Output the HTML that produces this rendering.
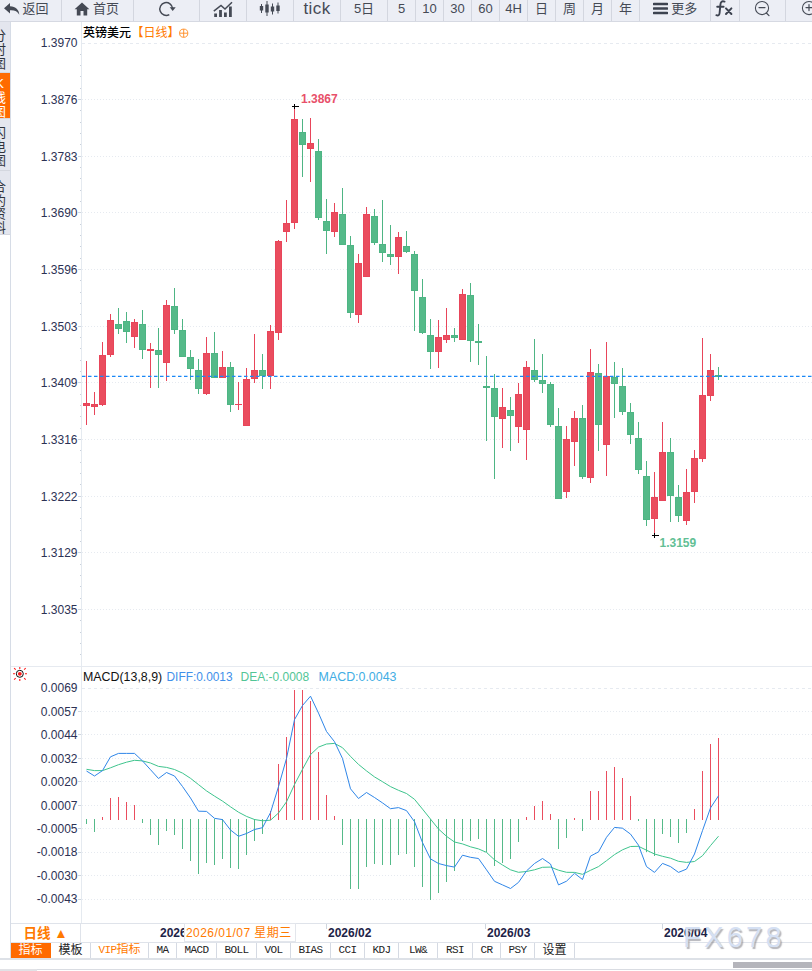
<!DOCTYPE html>
<html lang="zh"><head><meta charset="utf-8"><title>英镑美元 日线</title>
<style>

html,body{margin:0;padding:0;background:#fff;}
body{width:812px;height:971px;overflow:hidden;position:relative;
 font-family:"Liberation Sans","Noto Sans CJK SC",sans-serif;}
#tb{position:absolute;left:0;top:0;width:812px;height:22px;background:#eceef5;border-bottom:1px solid #d6d9e2;box-sizing:border-box;overflow:hidden;}
#tb .b{position:absolute;top:-5px;height:27px;box-sizing:border-box;border-right:1px solid #d3d6df;
  color:#454a55;font-size:13px;line-height:28px;text-align:center;white-space:nowrap;}
#tb .b svg{vertical-align:middle;position:relative;top:-1px}
#side{position:absolute;left:0;top:22px;width:11px;height:937px;background:#fff;border-right:1px solid #d6dce6;box-sizing:border-box;overflow:hidden}
#side .t{position:absolute;left:0;width:10px;background:#e4e6ee;overflow:hidden;border-bottom:1px solid #d4d7df;box-sizing:border-box}
#side .t span{position:absolute;left:-7px;width:13px;font-size:13px;line-height:14px;color:#2f333c;text-align:center;}
#side .t.on{background:#ff6a00;}
#side .t.on span{color:#fff}
#chart{position:absolute;left:0;top:0;}
#bot{position:absolute;left:11px;top:943px;height:15px;white-space:nowrap;font-size:0}
#bot span{display:inline-block;box-sizing:border-box;height:15px;line-height:15px;border-right:1px solid #d5dae3;text-align:center;
  font-family:"Liberation Mono","Noto Sans CJK SC",monospace;font-size:11px;letter-spacing:-0.6px;color:#222;vertical-align:top;overflow:hidden}
#bot span.cj{font-family:"Liberation Sans","Noto Sans CJK SC",sans-serif;font-size:12px;letter-spacing:0}
#bot span.on{background:#ff6a00;color:#fff;border-right-color:#ff6a00}
#bot span.vip{color:#ff7a00;font-family:"Liberation Mono","Noto Sans CJK SC",monospace;font-size:12px;letter-spacing:0}
#bot span.vip i{font-style:normal;font-size:11px;letter-spacing:-0.6px}
#rix{position:absolute;left:11px;top:923px;width:70px;height:20px;box-sizing:border-box;border:1px solid #dfe3ea;border-left:none;
  color:#ff7a00;font-weight:bold;font-size:13.5px;line-height:20px;text-align:center}
#l1{position:absolute;left:0;top:958px;width:812px;height:2px;background:#dde1e7}
#l2{position:absolute;left:0;top:969px;width:812px;height:2px;background:#fff;border-top:1px solid #d9dce2;box-sizing:border-box}
#l3{position:absolute;left:0;top:969px;width:37px;height:2px;background:#e1e2e6}
#thumb{position:absolute;left:733px;top:962px;width:79px;height:6px;background:#b5b5bb}
#wm{position:absolute;left:683px;top:920px;font-size:29px;line-height:34px;letter-spacing:3.3px;color:#d5e0f3;
   text-shadow:1.5px 1.5px 1px rgba(120,120,130,.55);font-family:"Liberation Sans",sans-serif;}

</style></head><body>
<svg id="chart" width="812" height="971" viewBox="0 0 812 971" font-family="Liberation Sans, Noto Sans CJK SC, sans-serif">
<g shape-rendering="crispEdges">
<rect x="81" y="22" width="1" height="901" fill="#e5eaf0"/>
<rect x="11" y="666" width="801" height="1" fill="#e6eaf0"/>
<rect x="11" y="923" width="801" height="1" fill="#dfe3ea"/>
<rect x="11" y="942" width="801" height="1" fill="#dfe3ea"/>
<line x1="82" x2="812" y1="43.5" y2="43.5" stroke="#e6eaf0" stroke-width="1" stroke-dasharray="3 3"/>
<rect x="80" y="54" width="1" height="1" fill="#c9d0da"/>
<rect x="80" y="65" width="1" height="1" fill="#c9d0da"/>
<rect x="80" y="76" width="1" height="1" fill="#c9d0da"/>
<rect x="80" y="88" width="1" height="1" fill="#c9d0da"/>
<line x1="82" x2="812" y1="99.5" y2="99.5" stroke="#e6eaf0" stroke-width="1" stroke-dasharray="1 2"/>
<rect x="78" y="99" width="3" height="1" fill="#cfd6df"/>
<rect x="80" y="110" width="1" height="1" fill="#c9d0da"/>
<rect x="80" y="122" width="1" height="1" fill="#c9d0da"/>
<rect x="80" y="133" width="1" height="1" fill="#c9d0da"/>
<rect x="80" y="144" width="1" height="1" fill="#c9d0da"/>
<line x1="82" x2="812" y1="156.5" y2="156.5" stroke="#e6eaf0" stroke-width="1" stroke-dasharray="1 2"/>
<rect x="78" y="156" width="3" height="1" fill="#cfd6df"/>
<rect x="80" y="167" width="1" height="1" fill="#c9d0da"/>
<rect x="80" y="178" width="1" height="1" fill="#c9d0da"/>
<rect x="80" y="190" width="1" height="1" fill="#c9d0da"/>
<rect x="80" y="201" width="1" height="1" fill="#c9d0da"/>
<line x1="82" x2="812" y1="212.5" y2="212.5" stroke="#e6eaf0" stroke-width="1" stroke-dasharray="1 2"/>
<rect x="78" y="212" width="3" height="1" fill="#cfd6df"/>
<rect x="80" y="224" width="1" height="1" fill="#c9d0da"/>
<rect x="80" y="235" width="1" height="1" fill="#c9d0da"/>
<rect x="80" y="246" width="1" height="1" fill="#c9d0da"/>
<rect x="80" y="258" width="1" height="1" fill="#c9d0da"/>
<line x1="82" x2="812" y1="269.5" y2="269.5" stroke="#e6eaf0" stroke-width="1" stroke-dasharray="1 2"/>
<rect x="78" y="269" width="3" height="1" fill="#cfd6df"/>
<rect x="80" y="280" width="1" height="1" fill="#c9d0da"/>
<rect x="80" y="292" width="1" height="1" fill="#c9d0da"/>
<rect x="80" y="303" width="1" height="1" fill="#c9d0da"/>
<rect x="80" y="314" width="1" height="1" fill="#c9d0da"/>
<line x1="82" x2="812" y1="326.5" y2="326.5" stroke="#e6eaf0" stroke-width="1" stroke-dasharray="1 2"/>
<rect x="78" y="326" width="3" height="1" fill="#cfd6df"/>
<rect x="80" y="337" width="1" height="1" fill="#c9d0da"/>
<rect x="80" y="348" width="1" height="1" fill="#c9d0da"/>
<rect x="80" y="360" width="1" height="1" fill="#c9d0da"/>
<rect x="80" y="371" width="1" height="1" fill="#c9d0da"/>
<line x1="82" x2="812" y1="382.5" y2="382.5" stroke="#e6eaf0" stroke-width="1" stroke-dasharray="1 2"/>
<rect x="78" y="382" width="3" height="1" fill="#cfd6df"/>
<rect x="80" y="394" width="1" height="1" fill="#c9d0da"/>
<rect x="80" y="405" width="1" height="1" fill="#c9d0da"/>
<rect x="80" y="416" width="1" height="1" fill="#c9d0da"/>
<rect x="80" y="428" width="1" height="1" fill="#c9d0da"/>
<line x1="82" x2="812" y1="439.5" y2="439.5" stroke="#e6eaf0" stroke-width="1" stroke-dasharray="1 2"/>
<rect x="78" y="439" width="3" height="1" fill="#cfd6df"/>
<rect x="80" y="450" width="1" height="1" fill="#c9d0da"/>
<rect x="80" y="462" width="1" height="1" fill="#c9d0da"/>
<rect x="80" y="473" width="1" height="1" fill="#c9d0da"/>
<rect x="80" y="484" width="1" height="1" fill="#c9d0da"/>
<line x1="82" x2="812" y1="496.5" y2="496.5" stroke="#e6eaf0" stroke-width="1" stroke-dasharray="1 2"/>
<rect x="78" y="496" width="3" height="1" fill="#cfd6df"/>
<rect x="80" y="507" width="1" height="1" fill="#c9d0da"/>
<rect x="80" y="518" width="1" height="1" fill="#c9d0da"/>
<rect x="80" y="530" width="1" height="1" fill="#c9d0da"/>
<rect x="80" y="541" width="1" height="1" fill="#c9d0da"/>
<line x1="82" x2="812" y1="552.5" y2="552.5" stroke="#e6eaf0" stroke-width="1" stroke-dasharray="1 2"/>
<rect x="78" y="552" width="3" height="1" fill="#cfd6df"/>
<rect x="80" y="564" width="1" height="1" fill="#c9d0da"/>
<rect x="80" y="575" width="1" height="1" fill="#c9d0da"/>
<rect x="80" y="586" width="1" height="1" fill="#c9d0da"/>
<rect x="80" y="598" width="1" height="1" fill="#c9d0da"/>
<line x1="82" x2="812" y1="609.5" y2="609.5" stroke="#e6eaf0" stroke-width="1" stroke-dasharray="1 2"/>
<rect x="78" y="609" width="3" height="1" fill="#cfd6df"/>
<rect x="80" y="620" width="1" height="1" fill="#c9d0da"/>
<rect x="80" y="632" width="1" height="1" fill="#c9d0da"/>
<rect x="80" y="643" width="1" height="1" fill="#c9d0da"/>
<rect x="80" y="654" width="1" height="1" fill="#c9d0da"/>
<line x1="82" x2="812" y1="688.5" y2="688.5" stroke="#e6eaf0" stroke-width="1" stroke-dasharray="3 3"/>
<line x1="82" x2="812" y1="711.5" y2="711.5" stroke="#e6eaf0" stroke-width="1" stroke-dasharray="1 2"/>
<rect x="78" y="711" width="3" height="1" fill="#cfd6df"/>
<line x1="82" x2="812" y1="734.5" y2="734.5" stroke="#e6eaf0" stroke-width="1" stroke-dasharray="1 2"/>
<rect x="78" y="734" width="3" height="1" fill="#cfd6df"/>
<line x1="82" x2="812" y1="758.5" y2="758.5" stroke="#e6eaf0" stroke-width="1" stroke-dasharray="1 2"/>
<rect x="78" y="758" width="3" height="1" fill="#cfd6df"/>
<line x1="82" x2="812" y1="781.5" y2="781.5" stroke="#e6eaf0" stroke-width="1" stroke-dasharray="1 2"/>
<rect x="78" y="781" width="3" height="1" fill="#cfd6df"/>
<line x1="82" x2="812" y1="805.5" y2="805.5" stroke="#e6eaf0" stroke-width="1" stroke-dasharray="1 2"/>
<rect x="78" y="805" width="3" height="1" fill="#cfd6df"/>
<line x1="82" x2="812" y1="828.5" y2="828.5" stroke="#e6eaf0" stroke-width="1" stroke-dasharray="1 2"/>
<rect x="78" y="828" width="3" height="1" fill="#cfd6df"/>
<line x1="82" x2="812" y1="852.5" y2="852.5" stroke="#e6eaf0" stroke-width="1" stroke-dasharray="1 2"/>
<rect x="78" y="852" width="3" height="1" fill="#cfd6df"/>
<line x1="82" x2="812" y1="875.5" y2="875.5" stroke="#e6eaf0" stroke-width="1" stroke-dasharray="1 2"/>
<rect x="78" y="875" width="3" height="1" fill="#cfd6df"/>
<line x1="82" x2="812" y1="899.5" y2="899.5" stroke="#e6eaf0" stroke-width="1" stroke-dasharray="1 2"/>
<rect x="78" y="899" width="3" height="1" fill="#cfd6df"/>
</g>
<g font-size="12" fill="#2c3154" text-anchor="end">
<text x="77.5" y="47.3">1.3970</text>
<text x="77.5" y="104.0">1.3876</text>
<text x="77.5" y="160.6">1.3783</text>
<text x="77.5" y="217.2">1.3690</text>
<text x="77.5" y="273.9">1.3596</text>
<text x="77.5" y="330.6">1.3503</text>
<text x="77.5" y="387.2">1.3409</text>
<text x="77.5" y="443.9">1.3316</text>
<text x="77.5" y="500.5">1.3222</text>
<text x="77.5" y="557.1">1.3129</text>
<text x="77.5" y="613.8">1.3035</text>
<text x="77.5" y="692.3">0.0069</text>
<text x="77.5" y="715.8">0.0057</text>
<text x="77.5" y="739.2">0.0044</text>
<text x="77.5" y="762.6">0.0032</text>
<text x="77.5" y="786.1">0.0020</text>
<text x="77.5" y="809.5">0.0007</text>
<text x="77.5" y="833.0">-0.0005</text>
<text x="77.5" y="856.4">-0.0018</text>
<text x="77.5" y="879.9">-0.0030</text>
<text x="77.5" y="903.3">-0.0043</text>
</g>
<text x="83" y="36.5" font-size="12" fill="#000" font-weight="500" font-family="Liberation Sans, Noto Sans CJK SC, sans-serif">英镑美元</text>
<text x="131.4" y="36.5" font-size="12" fill="#ff7a00" font-family="Liberation Sans, Noto Sans CJK SC, sans-serif">【日线】</text>
<g stroke="#ff8a1f" stroke-width="0.9" fill="none"><circle cx="183.7" cy="33.2" r="4.1"/><path d="M179.6 33.2h8.2M183.7 29.1v8.2"/></g>
<g shape-rendering="crispEdges">
<rect x="86.0" y="361" width="1" height="64" fill="#e8455a"/>
<rect x="83.0" y="403" width="7" height="3" fill="#e8455a"/>
<rect x="84.0" y="404" width="5" height="1" fill="#ea4d5e"/>
<rect x="94.0" y="392" width="1" height="23" fill="#e8455a"/>
<rect x="91.0" y="404" width="7" height="3" fill="#e8455a"/>
<rect x="92.0" y="405" width="5" height="1" fill="#ea4d5e"/>
<rect x="102.0" y="342" width="1" height="64" fill="#e8455a"/>
<rect x="99.0" y="355" width="7" height="50" fill="#e8455a"/>
<rect x="100.0" y="356" width="5" height="48" fill="#ea4d5e"/>
<rect x="110.0" y="314" width="1" height="43" fill="#e8455a"/>
<rect x="107.0" y="320" width="7" height="35" fill="#e8455a"/>
<rect x="108.0" y="321" width="5" height="33" fill="#ea4d5e"/>
<rect x="118.0" y="308" width="1" height="26" fill="#4eb584"/>
<rect x="115.0" y="324" width="7" height="5" fill="#4eb584"/>
<rect x="116.0" y="325" width="5" height="3" fill="#55ba89"/>
<rect x="126.0" y="312" width="1" height="31" fill="#4eb584"/>
<rect x="123.0" y="321" width="7" height="11" fill="#4eb584"/>
<rect x="124.0" y="322" width="5" height="9" fill="#55ba89"/>
<rect x="134.0" y="319" width="1" height="29" fill="#e8455a"/>
<rect x="131.0" y="322" width="7" height="15" fill="#e8455a"/>
<rect x="132.0" y="323" width="5" height="13" fill="#ea4d5e"/>
<rect x="142.0" y="310" width="1" height="49" fill="#4eb584"/>
<rect x="139.0" y="324" width="7" height="26" fill="#4eb584"/>
<rect x="140.0" y="325" width="5" height="24" fill="#55ba89"/>
<rect x="150.0" y="343" width="1" height="45" fill="#e8455a"/>
<rect x="147.0" y="349" width="7" height="2" fill="#e8455a"/>
<rect x="158.0" y="328" width="1" height="60" fill="#4eb584"/>
<rect x="155.0" y="350" width="7" height="5" fill="#4eb584"/>
<rect x="156.0" y="351" width="5" height="3" fill="#55ba89"/>
<rect x="166.0" y="300" width="1" height="81" fill="#e8455a"/>
<rect x="163.0" y="305" width="7" height="58" fill="#e8455a"/>
<rect x="164.0" y="306" width="5" height="56" fill="#ea4d5e"/>
<rect x="174.0" y="288" width="1" height="46" fill="#4eb584"/>
<rect x="171.0" y="306" width="7" height="24" fill="#4eb584"/>
<rect x="172.0" y="307" width="5" height="22" fill="#55ba89"/>
<rect x="182.0" y="319" width="1" height="38" fill="#4eb584"/>
<rect x="179.0" y="330" width="7" height="27" fill="#4eb584"/>
<rect x="180.0" y="331" width="5" height="25" fill="#55ba89"/>
<rect x="190.0" y="350" width="1" height="30" fill="#4eb584"/>
<rect x="187.0" y="357" width="7" height="12" fill="#4eb584"/>
<rect x="188.0" y="358" width="5" height="10" fill="#55ba89"/>
<rect x="198.0" y="359" width="1" height="35" fill="#4eb584"/>
<rect x="195.0" y="370" width="7" height="19" fill="#4eb584"/>
<rect x="196.0" y="371" width="5" height="17" fill="#55ba89"/>
<rect x="206.0" y="337" width="1" height="58" fill="#e8455a"/>
<rect x="203.0" y="353" width="7" height="41" fill="#e8455a"/>
<rect x="204.0" y="354" width="5" height="39" fill="#ea4d5e"/>
<rect x="214.0" y="332" width="1" height="46" fill="#4eb584"/>
<rect x="211.0" y="353" width="7" height="25" fill="#4eb584"/>
<rect x="212.0" y="354" width="5" height="23" fill="#55ba89"/>
<rect x="222.0" y="351" width="1" height="27" fill="#e8455a"/>
<rect x="219.0" y="367" width="7" height="11" fill="#e8455a"/>
<rect x="220.0" y="368" width="5" height="9" fill="#ea4d5e"/>
<rect x="230.0" y="362" width="1" height="50" fill="#4eb584"/>
<rect x="227.0" y="367" width="7" height="38" fill="#4eb584"/>
<rect x="228.0" y="368" width="5" height="36" fill="#55ba89"/>
<rect x="238.0" y="382" width="1" height="28" fill="#e8455a"/>
<rect x="235.0" y="404" width="7" height="1" fill="#e8455a"/>
<rect x="246.0" y="368" width="1" height="58" fill="#e8455a"/>
<rect x="243.0" y="379" width="7" height="47" fill="#e8455a"/>
<rect x="244.0" y="380" width="5" height="45" fill="#ea4d5e"/>
<rect x="254.0" y="334" width="1" height="49" fill="#e8455a"/>
<rect x="251.0" y="370" width="7" height="9" fill="#e8455a"/>
<rect x="252.0" y="371" width="5" height="7" fill="#ea4d5e"/>
<rect x="262.0" y="354" width="1" height="35" fill="#4eb584"/>
<rect x="259.0" y="370" width="7" height="6" fill="#4eb584"/>
<rect x="260.0" y="371" width="5" height="4" fill="#55ba89"/>
<rect x="270.0" y="325" width="1" height="64" fill="#e8455a"/>
<rect x="267.0" y="331" width="7" height="45" fill="#e8455a"/>
<rect x="268.0" y="332" width="5" height="43" fill="#ea4d5e"/>
<rect x="278.0" y="240" width="1" height="100" fill="#e8455a"/>
<rect x="275.0" y="241" width="7" height="92" fill="#e8455a"/>
<rect x="276.0" y="242" width="5" height="90" fill="#ea4d5e"/>
<rect x="286.0" y="200" width="1" height="42" fill="#e8455a"/>
<rect x="283.0" y="223" width="7" height="9" fill="#e8455a"/>
<rect x="284.0" y="224" width="5" height="7" fill="#ea4d5e"/>
<rect x="294.0" y="106" width="1" height="123" fill="#e8455a"/>
<rect x="291.0" y="119" width="7" height="104" fill="#e8455a"/>
<rect x="292.0" y="120" width="5" height="102" fill="#ea4d5e"/>
<rect x="302.0" y="119" width="1" height="58" fill="#4eb584"/>
<rect x="299.0" y="132" width="7" height="13" fill="#4eb584"/>
<rect x="300.0" y="133" width="5" height="11" fill="#55ba89"/>
<rect x="310.0" y="118" width="1" height="64" fill="#e8455a"/>
<rect x="307.0" y="143" width="7" height="6" fill="#e8455a"/>
<rect x="308.0" y="144" width="5" height="4" fill="#ea4d5e"/>
<rect x="318.0" y="139" width="1" height="81" fill="#4eb584"/>
<rect x="315.0" y="151" width="7" height="67" fill="#4eb584"/>
<rect x="316.0" y="152" width="5" height="65" fill="#55ba89"/>
<rect x="326.0" y="199" width="1" height="55" fill="#4eb584"/>
<rect x="323.0" y="221" width="7" height="10" fill="#4eb584"/>
<rect x="324.0" y="222" width="5" height="8" fill="#55ba89"/>
<rect x="334.0" y="203" width="1" height="34" fill="#e8455a"/>
<rect x="331.0" y="212" width="7" height="20" fill="#e8455a"/>
<rect x="332.0" y="213" width="5" height="18" fill="#ea4d5e"/>
<rect x="342.0" y="188" width="1" height="57" fill="#4eb584"/>
<rect x="339.0" y="214" width="7" height="31" fill="#4eb584"/>
<rect x="340.0" y="215" width="5" height="29" fill="#55ba89"/>
<rect x="350.0" y="236" width="1" height="82" fill="#4eb584"/>
<rect x="347.0" y="245" width="7" height="68" fill="#4eb584"/>
<rect x="348.0" y="246" width="5" height="66" fill="#55ba89"/>
<rect x="358.0" y="254" width="1" height="69" fill="#e8455a"/>
<rect x="355.0" y="263" width="7" height="52" fill="#e8455a"/>
<rect x="356.0" y="264" width="5" height="50" fill="#ea4d5e"/>
<rect x="366.0" y="207" width="1" height="70" fill="#e8455a"/>
<rect x="363.0" y="214" width="7" height="63" fill="#e8455a"/>
<rect x="364.0" y="215" width="5" height="61" fill="#ea4d5e"/>
<rect x="374.0" y="209" width="1" height="36" fill="#4eb584"/>
<rect x="371.0" y="216" width="7" height="27" fill="#4eb584"/>
<rect x="372.0" y="217" width="5" height="25" fill="#55ba89"/>
<rect x="382.0" y="200" width="1" height="62" fill="#4eb584"/>
<rect x="379.0" y="244" width="7" height="9" fill="#4eb584"/>
<rect x="380.0" y="245" width="5" height="7" fill="#55ba89"/>
<rect x="390.0" y="225" width="1" height="40" fill="#4eb584"/>
<rect x="387.0" y="254" width="7" height="3" fill="#4eb584"/>
<rect x="388.0" y="255" width="5" height="1" fill="#55ba89"/>
<rect x="398.0" y="232" width="1" height="42" fill="#e8455a"/>
<rect x="395.0" y="237" width="7" height="20" fill="#e8455a"/>
<rect x="396.0" y="238" width="5" height="18" fill="#ea4d5e"/>
<rect x="406.0" y="231" width="1" height="22" fill="#4eb584"/>
<rect x="403.0" y="246" width="7" height="6" fill="#4eb584"/>
<rect x="404.0" y="247" width="5" height="4" fill="#55ba89"/>
<rect x="414.0" y="251" width="1" height="80" fill="#4eb584"/>
<rect x="411.0" y="254" width="7" height="37" fill="#4eb584"/>
<rect x="412.0" y="255" width="5" height="35" fill="#55ba89"/>
<rect x="422.0" y="279" width="1" height="55" fill="#4eb584"/>
<rect x="419.0" y="297" width="7" height="36" fill="#4eb584"/>
<rect x="420.0" y="298" width="5" height="34" fill="#55ba89"/>
<rect x="430.0" y="319" width="1" height="50" fill="#4eb584"/>
<rect x="427.0" y="335" width="7" height="17" fill="#4eb584"/>
<rect x="428.0" y="336" width="5" height="15" fill="#55ba89"/>
<rect x="438.0" y="320" width="1" height="48" fill="#e8455a"/>
<rect x="435.0" y="337" width="7" height="15" fill="#e8455a"/>
<rect x="436.0" y="338" width="5" height="13" fill="#ea4d5e"/>
<rect x="446.0" y="308" width="1" height="35" fill="#e8455a"/>
<rect x="443.0" y="335" width="7" height="5" fill="#e8455a"/>
<rect x="444.0" y="336" width="5" height="3" fill="#ea4d5e"/>
<rect x="454.0" y="328" width="1" height="14" fill="#4eb584"/>
<rect x="451.0" y="335" width="7" height="3" fill="#4eb584"/>
<rect x="452.0" y="336" width="5" height="1" fill="#55ba89"/>
<rect x="462.0" y="289" width="1" height="51" fill="#e8455a"/>
<rect x="459.0" y="294" width="7" height="46" fill="#e8455a"/>
<rect x="460.0" y="295" width="5" height="44" fill="#ea4d5e"/>
<rect x="470.0" y="283" width="1" height="79" fill="#4eb584"/>
<rect x="467.0" y="295" width="7" height="46" fill="#4eb584"/>
<rect x="468.0" y="296" width="5" height="44" fill="#55ba89"/>
<rect x="478.0" y="324" width="1" height="41" fill="#4eb584"/>
<rect x="475.0" y="341" width="7" height="2" fill="#4eb584"/>
<rect x="486.0" y="356" width="1" height="85" fill="#4eb584"/>
<rect x="483.0" y="386" width="7" height="2" fill="#4eb584"/>
<rect x="494.0" y="374" width="1" height="105" fill="#4eb584"/>
<rect x="491.0" y="388" width="7" height="29" fill="#4eb584"/>
<rect x="492.0" y="389" width="5" height="27" fill="#55ba89"/>
<rect x="502.0" y="388" width="1" height="60" fill="#e8455a"/>
<rect x="499.0" y="407" width="7" height="12" fill="#e8455a"/>
<rect x="500.0" y="408" width="5" height="10" fill="#ea4d5e"/>
<rect x="510.0" y="397" width="1" height="54" fill="#4eb584"/>
<rect x="507.0" y="410" width="7" height="6" fill="#4eb584"/>
<rect x="508.0" y="411" width="5" height="4" fill="#55ba89"/>
<rect x="518.0" y="383" width="1" height="60" fill="#e8455a"/>
<rect x="515.0" y="394" width="7" height="33" fill="#e8455a"/>
<rect x="516.0" y="395" width="5" height="31" fill="#ea4d5e"/>
<rect x="526.0" y="361" width="1" height="99" fill="#e8455a"/>
<rect x="523.0" y="367" width="7" height="63" fill="#e8455a"/>
<rect x="524.0" y="368" width="5" height="61" fill="#ea4d5e"/>
<rect x="534.0" y="339" width="1" height="43" fill="#4eb584"/>
<rect x="531.0" y="370" width="7" height="10" fill="#4eb584"/>
<rect x="532.0" y="371" width="5" height="8" fill="#55ba89"/>
<rect x="542.0" y="354" width="1" height="39" fill="#4eb584"/>
<rect x="539.0" y="380" width="7" height="4" fill="#4eb584"/>
<rect x="540.0" y="381" width="5" height="2" fill="#55ba89"/>
<rect x="550.0" y="382" width="1" height="45" fill="#4eb584"/>
<rect x="547.0" y="384" width="7" height="41" fill="#4eb584"/>
<rect x="548.0" y="385" width="5" height="39" fill="#55ba89"/>
<rect x="558.0" y="408" width="1" height="91" fill="#4eb584"/>
<rect x="555.0" y="426" width="7" height="73" fill="#4eb584"/>
<rect x="556.0" y="427" width="5" height="71" fill="#55ba89"/>
<rect x="566.0" y="426" width="1" height="72" fill="#e8455a"/>
<rect x="563.0" y="439" width="7" height="53" fill="#e8455a"/>
<rect x="564.0" y="440" width="5" height="51" fill="#ea4d5e"/>
<rect x="574.0" y="411" width="1" height="55" fill="#e8455a"/>
<rect x="571.0" y="418" width="7" height="24" fill="#e8455a"/>
<rect x="572.0" y="419" width="5" height="22" fill="#ea4d5e"/>
<rect x="582.0" y="405" width="1" height="74" fill="#4eb584"/>
<rect x="579.0" y="418" width="7" height="59" fill="#4eb584"/>
<rect x="580.0" y="419" width="5" height="57" fill="#55ba89"/>
<rect x="590.0" y="349" width="1" height="134" fill="#e8455a"/>
<rect x="587.0" y="372" width="7" height="106" fill="#e8455a"/>
<rect x="588.0" y="373" width="5" height="104" fill="#ea4d5e"/>
<rect x="598.0" y="364" width="1" height="87" fill="#4eb584"/>
<rect x="595.0" y="373" width="7" height="52" fill="#4eb584"/>
<rect x="596.0" y="374" width="5" height="50" fill="#55ba89"/>
<rect x="606.0" y="342" width="1" height="134" fill="#e8455a"/>
<rect x="603.0" y="376" width="7" height="69" fill="#e8455a"/>
<rect x="604.0" y="377" width="5" height="67" fill="#ea4d5e"/>
<rect x="614.0" y="362" width="1" height="56" fill="#4eb584"/>
<rect x="611.0" y="377" width="7" height="7" fill="#4eb584"/>
<rect x="612.0" y="378" width="5" height="5" fill="#55ba89"/>
<rect x="622.0" y="368" width="1" height="47" fill="#4eb584"/>
<rect x="619.0" y="386" width="7" height="26" fill="#4eb584"/>
<rect x="620.0" y="387" width="5" height="24" fill="#55ba89"/>
<rect x="630.0" y="403" width="1" height="41" fill="#4eb584"/>
<rect x="627.0" y="412" width="7" height="23" fill="#4eb584"/>
<rect x="628.0" y="413" width="5" height="21" fill="#55ba89"/>
<rect x="638.0" y="422" width="1" height="52" fill="#4eb584"/>
<rect x="635.0" y="438" width="7" height="32" fill="#4eb584"/>
<rect x="636.0" y="439" width="5" height="30" fill="#55ba89"/>
<rect x="646.0" y="461" width="1" height="65" fill="#4eb584"/>
<rect x="643.0" y="476" width="7" height="44" fill="#4eb584"/>
<rect x="644.0" y="477" width="5" height="42" fill="#55ba89"/>
<rect x="654.0" y="472" width="1" height="63" fill="#e8455a"/>
<rect x="651.0" y="497" width="7" height="22" fill="#e8455a"/>
<rect x="652.0" y="498" width="5" height="20" fill="#ea4d5e"/>
<rect x="662.0" y="422" width="1" height="79" fill="#e8455a"/>
<rect x="659.0" y="452" width="7" height="49" fill="#e8455a"/>
<rect x="660.0" y="453" width="5" height="47" fill="#ea4d5e"/>
<rect x="670.0" y="438" width="1" height="84" fill="#4eb584"/>
<rect x="667.0" y="452" width="7" height="44" fill="#4eb584"/>
<rect x="668.0" y="453" width="5" height="42" fill="#55ba89"/>
<rect x="678.0" y="485" width="1" height="37" fill="#4eb584"/>
<rect x="675.0" y="497" width="7" height="19" fill="#4eb584"/>
<rect x="676.0" y="498" width="5" height="17" fill="#55ba89"/>
<rect x="686.0" y="469" width="1" height="56" fill="#e8455a"/>
<rect x="683.0" y="492" width="7" height="29" fill="#e8455a"/>
<rect x="684.0" y="493" width="5" height="27" fill="#ea4d5e"/>
<rect x="694.0" y="450" width="1" height="53" fill="#e8455a"/>
<rect x="691.0" y="458" width="7" height="34" fill="#e8455a"/>
<rect x="692.0" y="459" width="5" height="32" fill="#ea4d5e"/>
<rect x="702.0" y="338" width="1" height="124" fill="#e8455a"/>
<rect x="699.0" y="395" width="7" height="64" fill="#e8455a"/>
<rect x="700.0" y="396" width="5" height="62" fill="#ea4d5e"/>
<rect x="710.0" y="354" width="1" height="47" fill="#e8455a"/>
<rect x="707.0" y="370" width="7" height="26" fill="#e8455a"/>
<rect x="708.0" y="371" width="5" height="24" fill="#ea4d5e"/>
<rect x="718.0" y="367" width="1" height="13" fill="#4eb584"/>
<rect x="715.0" y="375" width="7" height="2" fill="#4eb584"/>
</g>
<line x1="82" x2="812" y1="376.4" y2="376.4" stroke="#1b88f6" stroke-width="1.3" stroke-dasharray="3.5 2.5"/>
<g fill="#000" shape-rendering="crispEdges"><rect x="292" y="106" width="7" height="1"/><rect x="294" y="104" width="1" height="5"/><rect x="652" y="535" width="7" height="1"/><rect x="654" y="533" width="1" height="5"/></g>
<text x="301" y="103" font-size="12" font-weight="bold" fill="#e8506a">1.3867</text>
<text x="659.5" y="546.5" font-size="12" font-weight="bold" fill="#62bf95">1.3159</text>
<text x="83" y="681" font-size="12.4" fill="#111">MACD(13,8,9)</text>
<text x="166.5" y="681" font-size="11.9" fill="#4190ea">DIFF:0.0013</text>
<text x="240.5" y="681" font-size="12" fill="#52c596">DEA:-0.0008</text>
<text x="318.6" y="681" font-size="12.4" fill="#41ade4">MACD:0.0043</text>
<g stroke="#ff1a1a" stroke-width="1.1" fill="none" stroke-linecap="butt"><path d="M19.8 667v2M19.8 679v2M13 673.8h2M25 673.8h2M14.1 668.2l1.6 1.4M24.1 669.6l1.6-1.4M14.1 679.6l1.6-1.4M24.1 678.2l1.6 1.4"/></g><circle cx="19.8" cy="673.8" r="3.5" fill="#fff" stroke="#111" stroke-width="1"/><circle cx="19.8" cy="673.8" r="1.9" fill="#ff1a1a"/>
<g shape-rendering="crispEdges">
<rect x="86.0" y="819.0" width="1" height="4.8" fill="#55ba89"/>
<rect x="94.0" y="819.0" width="1" height="12.5" fill="#55ba89"/>
<rect x="102.0" y="817" width="1" height="3.0" fill="#ea4d5e"/>
<rect x="110.0" y="798.2" width="1" height="21.8" fill="#ea4d5e"/>
<rect x="118.0" y="797" width="1" height="23.0" fill="#ea4d5e"/>
<rect x="126.0" y="802.2" width="1" height="17.8" fill="#ea4d5e"/>
<rect x="134.0" y="805.1" width="1" height="14.9" fill="#ea4d5e"/>
<rect x="142.0" y="819.0" width="1" height="3.7" fill="#55ba89"/>
<rect x="150.0" y="819.0" width="1" height="15.6" fill="#55ba89"/>
<rect x="158.0" y="819.0" width="1" height="25.5" fill="#55ba89"/>
<rect x="166.0" y="819.0" width="1" height="11.5" fill="#55ba89"/>
<rect x="174.0" y="819.0" width="1" height="15.6" fill="#55ba89"/>
<rect x="182.0" y="819.0" width="1" height="29.7" fill="#55ba89"/>
<rect x="190.0" y="819.0" width="1" height="41.8" fill="#55ba89"/>
<rect x="198.0" y="819.0" width="1" height="54.6" fill="#55ba89"/>
<rect x="206.0" y="819.0" width="1" height="43.5" fill="#55ba89"/>
<rect x="214.0" y="819.0" width="1" height="45.6" fill="#55ba89"/>
<rect x="222.0" y="819.0" width="1" height="39.7" fill="#55ba89"/>
<rect x="230.0" y="819.0" width="1" height="48.5" fill="#55ba89"/>
<rect x="238.0" y="819.0" width="1" height="49.6" fill="#55ba89"/>
<rect x="246.0" y="819.0" width="1" height="35.7" fill="#55ba89"/>
<rect x="254.0" y="819.0" width="1" height="21.7" fill="#55ba89"/>
<rect x="262.0" y="819.0" width="1" height="14.8" fill="#55ba89"/>
<rect x="270.0" y="811.1" width="1" height="8.9" fill="#ea4d5e"/>
<rect x="278.0" y="763.9" width="1" height="56.1" fill="#ea4d5e"/>
<rect x="286.0" y="736.9" width="1" height="83.1" fill="#ea4d5e"/>
<rect x="294.0" y="689.8" width="1" height="130.2" fill="#ea4d5e"/>
<rect x="302.0" y="689.8" width="1" height="130.2" fill="#ea4d5e"/>
<rect x="310.0" y="701.2" width="1" height="118.8" fill="#ea4d5e"/>
<rect x="318.0" y="752" width="1" height="68.0" fill="#ea4d5e"/>
<rect x="326.0" y="794.9" width="1" height="25.1" fill="#ea4d5e"/>
<rect x="334.0" y="815.6" width="1" height="4.4" fill="#ea4d5e"/>
<rect x="342.0" y="819.0" width="1" height="26.0" fill="#55ba89"/>
<rect x="350.0" y="819.0" width="1" height="69.7" fill="#55ba89"/>
<rect x="358.0" y="819.0" width="1" height="69.7" fill="#55ba89"/>
<rect x="366.0" y="819.0" width="1" height="47.7" fill="#55ba89"/>
<rect x="374.0" y="819.0" width="1" height="44.8" fill="#55ba89"/>
<rect x="382.0" y="819.0" width="1" height="45.9" fill="#55ba89"/>
<rect x="390.0" y="819.0" width="1" height="45.9" fill="#55ba89"/>
<rect x="398.0" y="819.0" width="1" height="35.8" fill="#55ba89"/>
<rect x="406.0" y="819.0" width="1" height="34.7" fill="#55ba89"/>
<rect x="414.0" y="819.0" width="1" height="47.7" fill="#55ba89"/>
<rect x="422.0" y="819.0" width="1" height="67.6" fill="#55ba89"/>
<rect x="430.0" y="819.0" width="1" height="80.5" fill="#55ba89"/>
<rect x="438.0" y="819.0" width="1" height="73.6" fill="#55ba89"/>
<rect x="446.0" y="819.0" width="1" height="62.5" fill="#55ba89"/>
<rect x="454.0" y="819.0" width="1" height="51.7" fill="#55ba89"/>
<rect x="462.0" y="819.0" width="1" height="21.7" fill="#55ba89"/>
<rect x="470.0" y="819.0" width="1" height="21.7" fill="#55ba89"/>
<rect x="478.0" y="819.0" width="1" height="19.6" fill="#55ba89"/>
<rect x="486.0" y="819.0" width="1" height="32.6" fill="#55ba89"/>
<rect x="494.0" y="819.0" width="1" height="46.6" fill="#55ba89"/>
<rect x="502.0" y="819.0" width="1" height="43.7" fill="#55ba89"/>
<rect x="510.0" y="819.0" width="1" height="39.7" fill="#55ba89"/>
<rect x="518.0" y="819.0" width="1" height="22.8" fill="#55ba89"/>
<rect x="526.0" y="817" width="1" height="3.0" fill="#ea4d5e"/>
<rect x="534.0" y="806.2" width="1" height="13.8" fill="#ea4d5e"/>
<rect x="542.0" y="801.1" width="1" height="18.9" fill="#ea4d5e"/>
<rect x="550.0" y="814.1" width="1" height="5.9" fill="#ea4d5e"/>
<rect x="558.0" y="819.0" width="1" height="29.7" fill="#55ba89"/>
<rect x="566.0" y="819.0" width="1" height="18.6" fill="#55ba89"/>
<rect x="574.0" y="818" width="1" height="2.0" fill="#ea4d5e"/>
<rect x="582.0" y="819.0" width="1" height="11.6" fill="#55ba89"/>
<rect x="590.0" y="791.2" width="1" height="28.8" fill="#ea4d5e"/>
<rect x="598.0" y="791.2" width="1" height="28.8" fill="#ea4d5e"/>
<rect x="606.0" y="770.9" width="1" height="49.1" fill="#ea4d5e"/>
<rect x="614.0" y="767.1" width="1" height="52.9" fill="#ea4d5e"/>
<rect x="622.0" y="778" width="1" height="42.0" fill="#ea4d5e"/>
<rect x="630.0" y="796" width="1" height="24.0" fill="#ea4d5e"/>
<rect x="638.0" y="819.0" width="1" height="2.0" fill="#55ba89"/>
<rect x="646.0" y="819.0" width="1" height="32.5" fill="#55ba89"/>
<rect x="654.0" y="819.0" width="1" height="36.7" fill="#55ba89"/>
<rect x="662.0" y="819.0" width="1" height="14.7" fill="#55ba89"/>
<rect x="670.0" y="819.0" width="1" height="17.6" fill="#55ba89"/>
<rect x="678.0" y="819.0" width="1" height="23.5" fill="#55ba89"/>
<rect x="686.0" y="819.0" width="1" height="13.6" fill="#55ba89"/>
<rect x="694.0" y="809.2" width="1" height="10.8" fill="#ea4d5e"/>
<rect x="702.0" y="770.9" width="1" height="49.1" fill="#ea4d5e"/>
<rect x="710.0" y="744.1" width="1" height="75.9" fill="#ea4d5e"/>
<rect x="718.0" y="738.2" width="1" height="81.8" fill="#ea4d5e"/>
</g>
<polyline points="86.5,769.3 94.5,770.6 102.5,770.6 110.5,767.8 118.5,764.7 126.5,762.2 134.5,760.3 142.5,760.9 150.5,763.0 158.5,766.4 166.5,767.4 174.5,769.5 182.5,773.1 190.5,778.3 198.5,784.6 206.5,790.9 214.5,796.1 222.5,801.1 230.5,806.8 238.5,812.2 246.5,816.4 254.5,819.5 262.5,820.8 270.5,820.2 278.5,813.0 286.5,801.8 294.5,784.5 302.5,769.3 310.5,754.6 318.5,747.1 326.5,744.0 334.5,743.4 342.5,747.7 350.5,756.4 358.5,764.4 366.5,770.9 374.5,776.9 382.5,781.7 390.5,786.6 398.5,790.3 406.5,793.5 414.5,799.3 422.5,809.1 430.5,819.1 438.5,829.0 446.5,836.3 454.5,842.0 462.5,843.9 470.5,846.8 478.5,848.9 486.5,852.4 494.5,859.8 502.5,865.0 510.5,869.8 518.5,872.3 526.5,871.5 534.5,869.8 542.5,867.3 550.5,867.1 558.5,870.2 566.5,872.3 574.5,872.4 582.5,874.3 590.5,870.3 598.5,866.6 606.5,860.7 614.5,854.6 622.5,849.8 630.5,846.5 638.5,846.3 646.5,850.2 654.5,854.0 662.5,856.3 670.5,858.2 678.5,861.3 686.5,862.4 694.5,861.5 702.5,855.7 710.5,845.6 718.5,836.2" fill="none" stroke="#3ec48d" stroke-width="1" stroke-linejoin="round"/>
<polyline points="86.5,771.0 94.5,776.0 102.5,770.6 110.5,756.8 118.5,753.4 126.5,753.4 134.5,753.4 142.5,760.9 150.5,769.7 158.5,778.5 166.5,772.5 174.5,776.0 182.5,786.5 190.5,798.0 198.5,811.2 206.5,811.4 214.5,818.3 222.5,819.6 230.5,830.0 238.5,836.3 246.5,833.5 254.5,829.5 262.5,827.7 270.5,812.6 278.5,786.6 286.5,758.5 294.5,719.6 302.5,705.5 310.5,696.2 318.5,713.1 326.5,731.5 334.5,741.7 342.5,758.5 350.5,788.8 358.5,798.5 366.5,792.5 374.5,797.5 382.5,802.9 390.5,808.7 398.5,807.6 406.5,810.6 414.5,821.7 422.5,842.6 430.5,858.9 438.5,863.5 446.5,865.6 454.5,867.1 462.5,855.2 470.5,857.3 478.5,858.5 486.5,869.8 494.5,881.3 502.5,884.9 510.5,888.5 518.5,882.4 526.5,870.9 534.5,863.5 542.5,858.5 550.5,864.0 558.5,884.9 566.5,881.2 574.5,873.3 582.5,879.5 590.5,856.1 598.5,851.9 606.5,837.3 614.5,827.4 622.5,828.2 630.5,834.1 638.5,845.2 646.5,866.6 654.5,872.4 662.5,863.4 670.5,866.6 678.5,872.4 686.5,869.1 694.5,854.0 702.5,830.6 710.5,807.9 718.5,795.8" fill="none" stroke="#2f86e8" stroke-width="1" stroke-linejoin="round"/>
<g font-size="12" font-weight="bold" fill="#1d2347">
<text x="160" y="936.5">2026</text>
<text x="328" y="936.5">2026/02</text>
<text x="487" y="936.5">2026/03</text>
<text x="664" y="936.5">2026/04</text>
</g>
<g shape-rendering="crispEdges" fill="#cfd6df"><rect x="326" y="924" width="1" height="5"/><rect x="485" y="924" width="1" height="5"/><rect x="662" y="924" width="1" height="5"/></g>
<rect x="184.5" y="923.5" width="111" height="18" fill="#fff" stroke="#e3e6ec"/>
<text x="186" y="936.5" font-size="12" fill="#ff7a00" letter-spacing="0.45">2026/01/07 星期三</text>
</svg>
<div id="tb">
<div class="b" style="left:-9px;width:71px"><svg width="18" height="14" viewBox="0 0 18 14"><path d="M7 1 1 6.2l6 5.2V8.2c4.5-.3 7.5 1 9.3 4.6C16 7.8 12.8 4.6 7 4.3z" fill="#454a55"/></svg><span style="margin-left:1px">返回</span></div>
<div class="b" style="left:60px;width:74px"><svg width="16" height="14" viewBox="0 0 16 14"><path d="M8 .5.6 7.2h2.2V13.5h3.7V9h3v4.5h3.7V7.2h2.2z" fill="#454a55"/></svg><span style="margin-left:3px">首页</span></div>
<div class="b" style="left:134px;width:66px"><svg width="20" height="18" viewBox="0 0 20 18"><path d="M15.6 8.4A6.4 6.4 0 1 0 12.3 14.6" fill="none" stroke="#454a55" stroke-width="1.5"/><path d="M12.7 7.2h6l-3 3.9z" fill="#454a55"/></svg></div>
<div class="b" style="left:200px;width:47px"><svg width="20" height="16" viewBox="0 0 20 16"><path d="M2.6 16v-3.6M7.5 16V9M12.4 16v-4.6M17.4 16V5.6" stroke="#454a55" stroke-width="2.8" fill="none"/><path d="M.8 10.2 8 4.4l4 3.6L19 1.2" stroke="#454a55" stroke-width="1.5" fill="none"/></svg></div>
<div class="b" style="left:247px;width:47px"><svg width="22" height="15" viewBox="0 0 22 15"><path d="M2.5 3v9M8 0v15M13.5 2.5v11M19 1.5v11" stroke="#454a55" stroke-width="1" fill="none"/><path d="M2.5 5v4.5M8 3.5v8M13.5 5.5v5M19 4.5v5.5" stroke="#454a55" stroke-width="3.4" fill="none"/></svg></div>
<div class="b" style="left:294px;width:47px"><span style="font-size:17px;letter-spacing:.4px">tick</span></div>
<div class="b" style="left:341px;width:47px">5日</div>
<div class="b" style="left:388px;width:28px">5</div>
<div class="b" style="left:416px;width:28px">10</div>
<div class="b" style="left:444px;width:28px">30</div>
<div class="b" style="left:472px;width:28px">60</div>
<div class="b" style="left:500px;width:28px">4H</div>
<div class="b" style="left:528px;width:28px">日</div>
<div class="b" style="left:556px;width:28px">周</div>
<div class="b" style="left:584px;width:28px">月</div>
<div class="b" style="left:612px;width:28px">年</div>
<div class="b" style="left:640px;width:71px"><svg width="15" height="13" viewBox="0 0 15 13"><path d="M1 2h13M1 6.5h13M1 11h13" stroke="#3d4350" stroke-width="2.6" stroke-linecap="round"/></svg> 更多</div>
<div class="b" style="left:711px;width:29px"><svg width="20" height="17" viewBox="0 0 20 17"><path d="M9.5 1.6C7 .6 5.6 2 5.4 4.6L4.6 13c-.2 2.2-1.4 3-3.2 2.2M2.2 6.8h6.4" fill="none" stroke="#3d4350" stroke-width="1.9" stroke-linecap="round"/><path d="M11 8.4l5.4 5.6M16.4 8.4 11 14" stroke="#3d4350" stroke-width="2" stroke-linecap="round"/></svg></div>
<div class="b" style="left:740px;width:46px"><svg width="18" height="18" viewBox="0 0 18 18"><circle cx="8" cy="8" r="6.6" fill="none" stroke="#454a55" stroke-width="1.05"/><path d="M5 7.6h6M12.4 13 15 15.6" stroke="#454a55" stroke-width="1.2" stroke-linecap="round"/></svg></div>
<div class="b" style="left:787px;width:46px"><svg width="18" height="18" viewBox="0 0 18 18"><circle cx="8" cy="8" r="6.6" fill="none" stroke="#454a55" stroke-width="1.05"/><path d="M5 7.6h6M8 4.6v6M12.4 13 15 15.6" stroke="#454a55" stroke-width="1.2" stroke-linecap="round"/></svg></div>
</div>
<div id="side">
<div class="t" style="top:0px;height:51px"><span style="top:6.5px;line-height:14px">分<br>时<br>图</span></div>
<div class="t on" style="top:51px;height:46px"><span style="top:4px;line-height:14px">K<br>线<br>图</span></div>
<div class="t" style="top:97px;height:52px"><span style="top:7px;line-height:14px">闪<br>电<br>图</span></div>
<div class="t" style="top:149px;height:64px"><span style="top:9px;line-height:13.6px">合<br>约<br>资<br>料</span></div>
</div>
<div id="rix">日线 ▲</div>
<div id="bot">
<span class="cj on" style="width:40px">指标</span>
<span class="cj" style="width:40px">模板</span>
<span class="vip" style="width:58px"><i>VIP</i>指标</span>
<span class="" style="width:28px">MA</span>
<span class="" style="width:40px">MACD</span>
<span class="" style="width:40px">BOLL</span>
<span class="" style="width:34px">VOL</span>
<span class="" style="width:40px">BIAS</span>
<span class="" style="width:34px">CCI</span>
<span class="" style="width:34px">KDJ</span>
<span class="" style="width:39px">LW&amp;</span>
<span class="" style="width:35px">RSI</span>
<span class="" style="width:28px">CR</span>
<span class="" style="width:34px">PSY</span>
<span class="cj" style="width:40px">设置</span>
</div>
<div id="l1"></div><div id="l2"></div><div id="l3"></div><div id="thumb"></div>
<div id="wm">FX678</div>
</body></html>
